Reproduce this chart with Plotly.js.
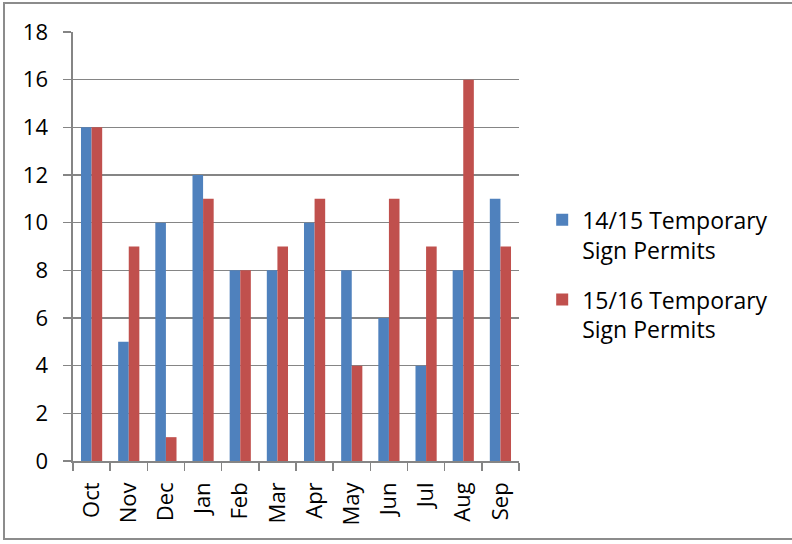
<!DOCTYPE html>
<html><head><meta charset="utf-8">
<script src="https://cdn.plot.ly/plotly-3.0.1.min.js"></script>
<style>
html,body{margin:0;padding:0;background:#fff;}
#wrap{position:relative;width:792px;height:544px;overflow:hidden;}
#chart{position:absolute;left:0;top:0;width:792px;height:544px;}
#frame{position:absolute;left:3px;top:2px;width:800px;height:538px;border:2px solid #8c8c8c;box-sizing:border-box;pointer-events:none;}
</style></head>
<body><div id="wrap"><div id="chart"></div><div id="frame"></div></div>
<script>
const months = ["Oct","Nov","Dec","Jan","Feb","Mar","Apr","May","Jun","Jul","Aug","Sep"];
const series1Name = "14/15 Temporary<br>Sign Permits";
const series2Name = "15/16 Temporary<br>Sign Permits";
const permits1415 = [14,5,10,12,8,8,10,8,6,4,8,11];
const permits1516 = [14,9,1,11,8,9,11,4,11,9,16,9];
const yTicks = [0,2,4,6,8,10,12,14,16,18];

const font = {family:"'Open Sans', 'Noto Sans', sans-serif", size:22, color:"#000"};
const data = [
  {type:"bar", x:months, y:permits1415, name:series1Name, legendgroup:"a", marker:{color:"#4F81BD"}},
  {type:"bar", x:months, y:permits1516, name:series2Name, legendgroup:"b", marker:{color:"#C0504D"}}
];
const layout = {
  width:792, height:544,
  margin:{l:73, r:273, t:32, b:83},
  paper_bgcolor:"rgba(0,0,0,0)", plot_bgcolor:"#fff",
  font:font,
  barmode:"group", bargap:0.43, bargroupgap:0,
  showlegend:true,
  legend:{x:1.052, y:0.434, xanchor:"left", yanchor:"middle", font:{family:font.family,size:23,color:"#000"}, valign:"top", itemwidth:30, tracegroupgap:17, bgcolor:"rgba(0,0,0,0)"},
  xaxis:{type:"category", tickangle:-90, showline:true, linecolor:"#858585", linewidth:1.6,
    ticks:"outside", tickson:"boundaries", ticklen:8, tickcolor:"#858585", tickwidth:1.6,
    showgrid:false, tickfont:{size:22}, ticklabelstandoff:11, fixedrange:true},
  yaxis:{range:[0,18], tickvals:yTicks, ticktext:yTicks.map(String), showline:true, linecolor:"#858585", linewidth:1.6,
    ticks:"outside", ticklen:8, tickcolor:"#858585", tickwidth:1.6,
    showgrid:true, gridcolor:"#858585", gridwidth:1.6, zeroline:false, tickfont:{size:22}, ticklabelstandoff:11, fixedrange:true}
};
Plotly.newPlot("chart", data, layout, {staticPlot:true, displayModeBar:false});
</script></body></html>
